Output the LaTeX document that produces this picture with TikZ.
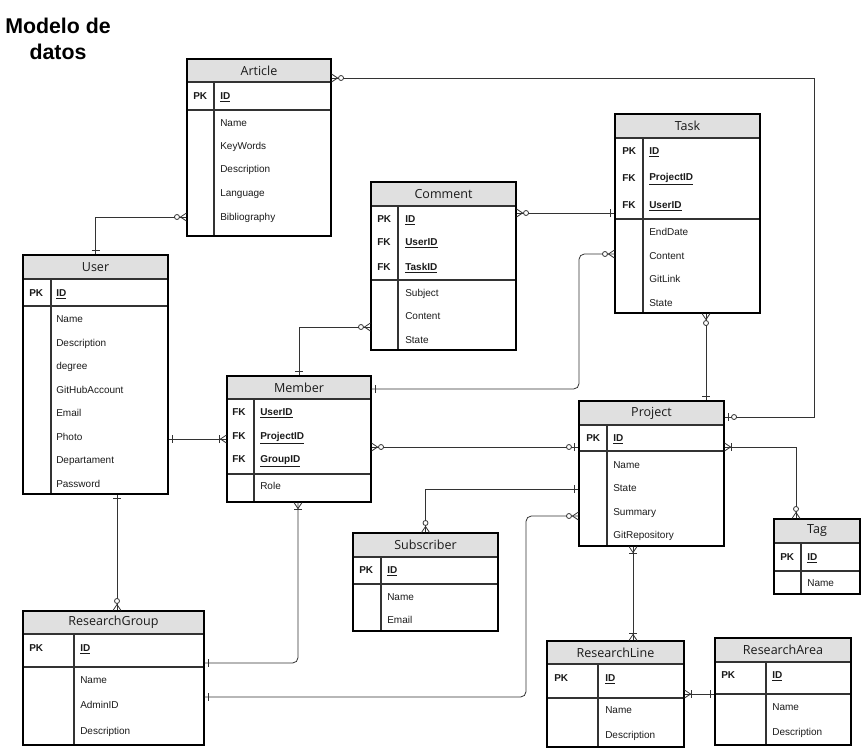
\documentclass[tikz,border=0pt]{standalone}
\usepackage{fontspec}
\setmainfont{Liberation Sans}
\newfontfamily\hdrfont{Open Sans}
\usetikzlibrary{fit}
\definecolor{hdrgray}{HTML}{E0E0E0}
\definecolor{linegray}{HTML}{333333}
\definecolor{txt}{HTML}{1A1A1A}
\tikzset{
  tbl/.style={draw=black, line width=0.8pt, inner sep=0pt},
  tline/.style={draw=linegray, line width=0.8pt},
  hdr/.style={fill=hdrgray},
  htext/.style={font=\hdrfont\fontsize{9.4}{11}\selectfont, text=txt},
  keyt/.style={anchor=west, inner sep=0pt, text height=5.4pt, text depth=0pt, font=\fontsize{7.5}{9}\selectfont\bfseries, text=txt},
  fld/.style={anchor=west, inner sep=0pt, text height=5.4pt, text depth=0pt, font=\fontsize{7.5}{9}\selectfont, text=txt},
  conn/.style={draw=linegray, line width=0.6pt},
  mk/.style={draw=linegray, line width=0.6pt},
  one/.pic={\draw[mk] (4,-4) -- (4,4);},
  zone/.pic={\draw[mk] (4,-4) -- (4,4); \draw[mk,fill=white] (9.5,0) circle[radius=2.5];},
  zmany/.pic={\draw[mk] (0,-4) -- (6,0) -- (0,4); \draw[mk,fill=white] (9.5,0) circle[radius=2.5];},
  omany/.pic={\draw[mk] (0,-4) -- (6,0) -- (0,4); \draw[mk] (7,-4) -- (7,4);}
}
\newcommand{\kf}[1]{\textbf{\underline{#1}}}
% name, x1, y1, x2, y2, header bottom, key bottom, divider x, title
\newcommand{\ertable}[9]{%
  \fill[hdr] (#2,#3) rectangle (#4,#6);
  \draw[tline] (#2,#6) -- (#4,#6);
  \draw[tline] (#2,#7) -- (#4,#7);
  \draw[tline] (#8,#6) -- (#8,#5);
  \node[tbl, fit={(#2,#3) (#4,#5)}] (#1) {};
  \node[htext] (#1-title) at ({(#2+#4)/2},{(#3+#6)/2}) {#9};
}
\begin{document}
\begin{tikzpicture}[x=0.75pt,y=-0.75pt]
\useasboundingbox (0,0) rectangle (862,750);

% title
\node[align=center, font=\fontsize{16}{19.5}\selectfont\bfseries, text=black] (title) at (58,39) {Modelo de\\datos};

% tables
\ertable{article}{187}{59}{331}{236}{82}{110}{214}{Article}
\ertable{user}{23}{255}{168}{494}{279}{306}{51}{User}
\ertable{member}{227}{376}{371}{502}{399}{474}{254}{Member}
\ertable{comment}{371}{182}{516}{350}{206}{280}{398}{Comment}
\ertable{task}{615}{114}{760}{313}{138}{219}{643}{Task}
\ertable{project}{579}{401}{724}{546}{425}{451}{607}{Project}
\ertable{tag}{774}{519}{860}{594}{543}{571}{801}{Tag}
\ertable{subscriber}{353}{533}{498}{631}{557}{584}{381}{Subscriber}
\ertable{researchgroup}{23}{611}{204}{745}{634}{667}{74}{ResearchGroup}
\ertable{researchline}{547}{641}{684}{747}{664}{698}{598}{ResearchLine}
\ertable{researcharea}{715}{638}{851}{745}{662}{694}{766}{ResearchArea}

% Article rows
\node[keyt] (article-pk) at (193,96) {PK};
\node[fld] (article-id) at (220,96) {\kf{ID}};
\node[fld] (article-f1) at (220,123) {Name};
\node[fld] (article-f2) at (220,146) {KeyWords};
\node[fld] (article-f3) at (220,169) {Description};
\node[fld] (article-f4) at (220,193) {Language};
\node[fld] (article-f5) at (220,217) {Bibliography};

% User rows
\node[keyt] (user-pk) at (29,293) {PK};
\node[fld] (user-id) at (56,293) {\kf{ID}};
\node[fld] (user-f1) at (56,319) {Name};
\node[fld] (user-f2) at (56,343) {Description};
\node[fld] (user-f3) at (56,366) {degree};
\node[fld] (user-f4) at (56,390) {GitHubAccount};
\node[fld] (user-f5) at (56,413) {Email};
\node[fld] (user-f6) at (56,437) {Photo};
\node[fld] (user-f7) at (56,460) {Departament};
\node[fld] (user-f8) at (56,484) {Password};

% Member rows
\node[keyt] (member-k1) at (232,412) {FK};
\node[keyt] (member-k2) at (232,436) {FK};
\node[keyt] (member-k3) at (232,459) {FK};
\node[fld] (member-f1) at (260,412) {\kf{UserID}};
\node[fld] (member-f2) at (260,436) {\kf{ProjectID}};
\node[fld] (member-f3) at (260,459) {\kf{GroupID}};
\node[fld] (member-f4) at (260,486) {Role};

% Comment rows
\node[keyt] (comment-k1) at (377,219) {PK};
\node[keyt] (comment-k2) at (377,242) {FK};
\node[keyt] (comment-k3) at (377,267) {FK};
\node[fld] (comment-f1) at (405,219) {\kf{ID}};
\node[fld] (comment-f2) at (405,242) {\kf{UserID}};
\node[fld] (comment-f3) at (405,267) {\kf{TaskID}};
\node[fld] (comment-f4) at (405,293) {Subject};
\node[fld] (comment-f5) at (405,316) {Content};
\node[fld] (comment-f6) at (405,340) {State};

% Task rows
\node[keyt] (task-k1) at (622,151) {PK};
\node[keyt] (task-k2) at (622,178) {FK};
\node[keyt] (task-k3) at (622,205) {FK};
\node[fld] (task-f1) at (649,151) {\kf{ID}};
\node[fld] (task-f2) at (649,177) {\kf{ProjectID}};
\node[fld] (task-f3) at (649,205) {\kf{UserID}};
\node[fld] (task-f4) at (649,232) {EndDate};
\node[fld] (task-f5) at (649,256) {Content};
\node[fld] (task-f6) at (649,279) {GitLink};
\node[fld] (task-f7) at (649,303) {State};

% Project rows
\node[keyt] (project-pk) at (586,438) {PK};
\node[fld] (project-id) at (613,438) {\kf{ID}};
\node[fld] (project-f1) at (613,465) {Name};
\node[fld] (project-f2) at (613,488) {State};
\node[fld] (project-f3) at (613,512) {Summary};
\node[fld] (project-f4) at (613,535) {GitRepository};

% Tag rows
\node[keyt] (tag-pk) at (780,557) {PK};
\node[fld] (tag-id) at (807,557) {\kf{ID}};
\node[fld] (tag-f1) at (807,583) {Name};

% Subscriber rows
\node[keyt] (subscriber-pk) at (359,570) {PK};
\node[fld] (subscriber-id) at (387,570) {\kf{ID}};
\node[fld] (subscriber-f1) at (387,597) {Name};
\node[fld] (subscriber-f2) at (387,620) {Email};

% ResearchGroup rows
\node[keyt] (researchgroup-pk) at (29,648) {PK};
\node[fld] (researchgroup-id) at (80,648) {\kf{ID}};
\node[fld] (researchgroup-f1) at (80,680) {Name};
\node[fld] (researchgroup-f2) at (80,705) {AdminID};
\node[fld] (researchgroup-f3) at (80,731) {Description};

% ResearchLine rows
\node[keyt] (researchline-pk) at (554,678) {PK};
\node[fld] (researchline-id) at (605,678) {\kf{ID}};
\node[fld] (researchline-f1) at (605,710) {Name};
\node[fld] (researchline-f2) at (605,735) {Description};

% ResearchArea rows
\node[keyt] (researcharea-pk) at (721,675) {PK};
\node[fld] (researcharea-id) at (772,675) {\kf{ID}};
\node[fld] (researcharea-f1) at (772,707) {Name};
\node[fld] (researcharea-f2) at (772,732) {Description};

% connectors
% Article - Project
\draw[conn] (article.east |- 0,78) -- (814,78) -- (814,417) -- (project.east |- 0,417);
\pic at (article.east |- 0,78) {zmany};
\pic at (project.east |- 0,417) {zone};
% Article - User
\draw[conn] (article.west |- 0,217) -| (user.north);
\pic[rotate=180] at (article.west |- 0,217) {zmany};
\pic[rotate=90] at (user.north) {one};
% Comment - Task
\draw[conn] (comment.east |- 0,213) -- (task.west |- 0,213);
\pic at (comment.east |- 0,213) {zmany};
\pic[rotate=180] at (task.west |- 0,213) {one};
% Comment - Member
\draw[conn] (comment.west |- 0,327) -| (member.north);
\pic[rotate=180] at (comment.west |- 0,327) {zmany};
\pic[rotate=90] at (member.north) {one};
% Task - Member
\draw[conn, rounded corners=4pt] (task.west |- 0,254) -| (579,389) -- (member.east |- 0,389);
\pic[rotate=180] at (task.west |- 0,254) {zmany};
\pic at (member.east |- 0,389) {one};
% Task - Project
\draw[conn] (706,0 |- task.south) -- (706,0 |- project.north);
\pic[rotate=270] at (706,0 |- task.south) {zmany};
\pic[rotate=90] at (706,0 |- project.north) {one};
% Member - Project
\draw[conn] (member.east |- 0,447) -- (project.west |- 0,447);
\pic at (member.east |- 0,447) {zmany};
\pic[rotate=180] at (project.west |- 0,447) {zone};
% User - Member
\draw[conn] (user.east |- 0,439) -- (member.west |- 0,439);
\pic at (user.east |- 0,439) {one};
\pic[rotate=180] at (member.west |- 0,439) {omany};
% Project - Subscriber
\draw[conn] (project.west |- 0,489) -| (subscriber.north);
\pic[rotate=180] at (project.west |- 0,489) {one};
\pic[rotate=90] at (subscriber.north) {zmany};
% Project - ResearchGroup
\draw[conn, rounded corners=4pt] (project.west |- 0,516) -| (526,697) -- (researchgroup.east |- 0,697);
\pic[rotate=180] at (project.west |- 0,516) {zmany};
\pic at (researchgroup.east |- 0,697) {one};
% Project - Tag
\draw[conn] (project.east |- 0,447) -| (796,0 |- tag.north);
\pic at (project.east |- 0,447) {omany};
\pic[rotate=90] at (796,0 |- tag.north) {zmany};
% Project - ResearchLine
\draw[conn] (633,0 |- project.south) -- (633,0 |- researchline.north);
\pic[rotate=270] at (633,0 |- project.south) {omany};
\pic[rotate=90] at (633,0 |- researchline.north) {omany};
% ResearchLine - ResearchArea
\draw[conn] (researchline.east |- 0,694) -- (researcharea.west |- 0,694);
\pic at (researchline.east |- 0,694) {omany};
\pic[rotate=180] at (researcharea.west |- 0,694) {one};
% User - ResearchGroup
\draw[conn] (117,0 |- user.south) -- (117,0 |- researchgroup.north);
\pic[rotate=270] at (117,0 |- user.south) {one};
\pic[rotate=90] at (117,0 |- researchgroup.north) {zmany};
% Member - ResearchGroup
\draw[conn, rounded corners=4pt] (298,0 |- member.south) -- (298,663) -- (researchgroup.east |- 0,663);
\pic[rotate=270] at (298,0 |- member.south) {omany};
\pic at (researchgroup.east |- 0,663) {one};
\end{tikzpicture}
\end{document}
